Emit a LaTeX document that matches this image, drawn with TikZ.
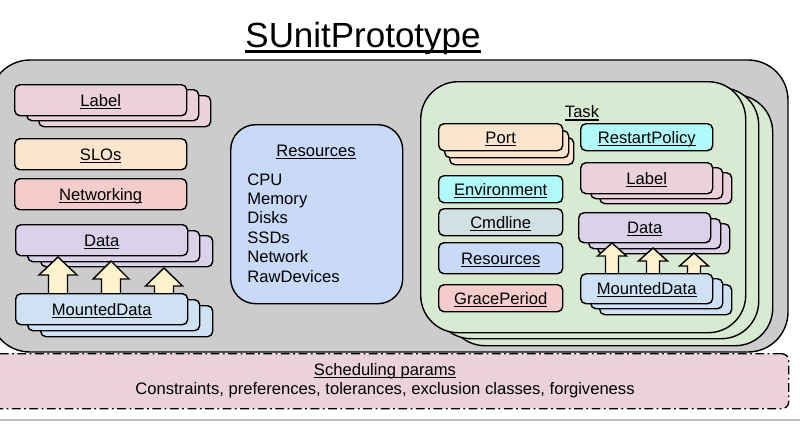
\documentclass[tikz,border=0pt]{standalone}
\usepackage{fontspec}
\setmainfont{Liberation Sans}
\usetikzlibrary{shadows}

\definecolor{podgray}{HTML}{CCCCCC}
\definecolor{lblpink}{HTML}{EAD1DC}
\definecolor{sloorange}{HTML}{FCE5CD}
\definecolor{netred}{HTML}{F4CCCC}
\definecolor{datapurple}{HTML}{D9D2E9}
\definecolor{mntblue}{HTML}{CFE2F3}
\definecolor{resblue}{HTML}{C9DAF8}
\definecolor{taskgreen}{HTML}{D9EAD3}
\definecolor{envcyan}{HTML}{B2FAFA}
\definecolor{cmdgray}{HTML}{D0E0E3}
\definecolor{arrowyellow}{HTML}{FFF2CC}

\newcommand\uln[1]{\setbox0\hbox{#1}\copy0\smash{\llap{\rule[-1.5pt]{\wd0}{0.7pt}}}}
\newcommand\titleul[1]{\setbox0\hbox{#1}\copy0\smash{\llap{\rule[-3.4pt]{\wd0}{1.7pt}}}}

\begin{document}
\begin{tikzpicture}[x=0.02cm,y=-0.02cm,font=\fontsize{9.45}{11.2}\selectfont,
  box/.style={draw,line width=0.8pt,rounded corners=3pt,anchor=north west,inner sep=0pt,text height=6.8pt,text depth=0pt},
  sz/.style 2 args={minimum width=#1*0.02cm,minimum height=#2*0.02cm},
  stk/.style n args={5}{copy shadow={fill=#1,shadow xshift=#4*0.02cm,shadow yshift=-#5*0.02cm},
                        copy shadow={fill=#1,shadow xshift=#2*0.02cm,shadow yshift=-#3*0.02cm}},
  fatarrow/.style={draw,line width=0.8pt,fill=arrowyellow}]
\useasboundingbox (0,0) rectangle (800,423);

\node[anchor=base,font=\fontsize{19.9}{24}\selectfont] (title) at (363,47) {\titleul{SUnitPrototype}};

\draw[line width=0.8pt,fill=podgray,rounded corners=0.8cm] (-10,60) rectangle (788,352);

% left column
\node[box,fill=lblpink,sz={172}{31},stk={lblpink}{12}{5}{24}{11}] (label) at (14,84) {\uln{Label}};
\node[box,fill=sloorange,sz={172}{31}] (slos) at (14,138) {\uln{SLOs}};
\node[box,fill=netred,sz={172}{31}] (net) at (14,178) {\uln{Networking}};
\node[box,fill=datapurple,sz={172}{31},stk={datapurple}{12}{6}{25}{11}] (data) at (15,224) {\uln{Data}};
\foreach \x/\t/\b/\h in {58/257/275/19, 111/261/279/18, 164/268/286/18.5}
  \draw[fatarrow] (\x-9.5,300) -- (\x-9.5,\b) -- (\x-\h,\b) -- (\x,\t) -- (\x+\h,\b) -- (\x+9.5,\b) -- (\x+9.5,300) -- cycle;
\node[box,fill=mntblue,sz={172}{31},stk={mntblue}{12}{6}{25}{12}] (mnt) at (15,293) {\uln{MountedData}};

% resources
\node[box,fill=resblue,sz={172}{179},rounded corners=0.5cm] (res) at (230,124) {};
\node (restitle) at (316,151) {\uln{Resources}};
\foreach \r [count=\i] in {CPU,Memory,Disks,SSDs,Network,RawDevices}
  \node[anchor=base west,inner sep=0pt] (res\i) at (247,{185+19.4*(\i-1)}) {\r};

% task
\node[box,fill=taskgreen,sz={325}{251},rounded corners=0.75cm,stk={taskgreen}{13}{6}{27}{13}] (task) at (420,81) {};
\node (tasktitle) at (582,112) {\uln{Task}};
\node[box,fill=sloorange,sz={124}{27},stk={sloorange}{6}{7}{11}{14}] (port) at (438,123) {\uln{Port}};
\node[box,fill=envcyan,sz={132}{27}] (restart) at (580,123) {\uln{RestartPolicy}};
\node[box,fill=lblpink,sz={132}{31},stk={lblpink}{10}{5}{19}{10}] (tlabel) at (580,162) {\uln{Label}};
\node[box,fill=envcyan,sz={124}{27}] (env) at (438,175) {\uln{Environment}};
\node[box,fill=cmdgray,sz={124}{27}] (cmd) at (438,208) {\uln{Cmdline}};
\node[box,fill=resblue,sz={124}{31}] (tres) at (438,242) {\uln{Resources}};
\node[box,fill=netred,sz={124}{27}] (grace) at (438,284) {\uln{GracePeriod}};
\node[box,fill=datapurple,sz={132}{30},stk={datapurple}{10}{6}{19}{11}] (tdata) at (578,212) {\uln{Data}};
\foreach \x/\t/\b in {612/243/256, 653/248/261, 694/253/266}
  \draw[fatarrow] (\x-6.5,280) -- (\x-6.5,\b) -- (\x-14.5,\b) -- (\x,\t) -- (\x+14.5,\b) -- (\x+6.5,\b) -- (\x+6.5,280) -- cycle;
\node[box,fill=mntblue,sz={132}{30},stk={mntblue}{10}{5}{19}{11}] (tmnt) at (580,273) {\uln{MountedData}};

% scheduling
\node[draw,line width=0.8pt,dash pattern=on 5pt off 2pt on 1pt off 2pt,fill=lblpink,rounded corners=4pt,
  anchor=north west,sz={798}{55}] (sched) at (-10,353) {};
\node[align=center,font=\fontsize{9.45}{10.8}\selectfont] (schedtext) at (385,381)
  {\uln{Scheduling params}\\Constraints, preferences, tolerances, exclusion classes, forgiveness};

\draw[black!25,line width=0.6pt] (0,420) -- (800,420);
\end{tikzpicture}
\end{document}
